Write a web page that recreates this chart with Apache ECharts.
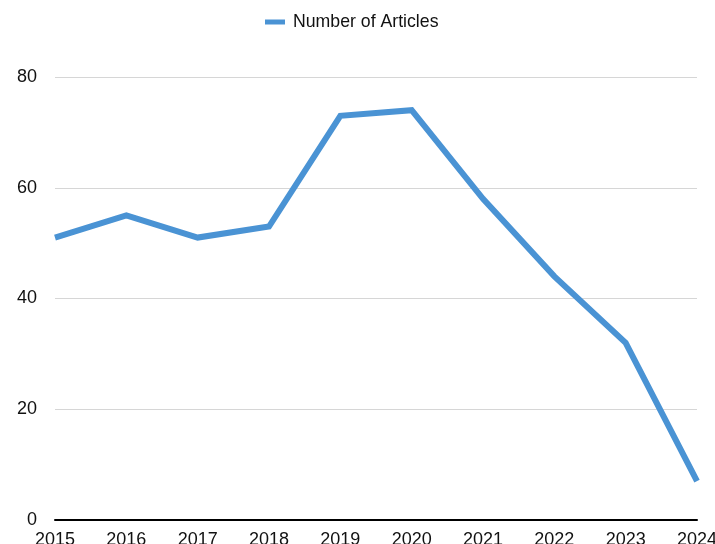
<!DOCTYPE html>
<html><head><meta charset="utf-8">
<script src="https://cdn.jsdelivr.net/npm/echarts@6/dist/echarts.min.js"></script>
<style>html,body{margin:0;padding:0;background:#fff}#c{width:715px;height:544px}</style>
</head><body><div id="c"></div>
<script>
const years = ['2015','2016','2017','2018','2019','2020','2021','2022','2023','2024'];
const articles = [51, 55, 51, 53, 73, 74, 58, 44, 32, 7];
const seriesName = 'Number of Articles';

const chart = echarts.init(document.getElementById('c'), null, {renderer:'canvas'});
const font = '"Liberation Sans", Arial, Helvetica, sans-serif';
chart.setOption({
  animation:false,
  backgroundColor:'#fff',
  legend:{
    top:8, left:260,
    itemWidth:20, itemHeight:5, itemGap:8,
    icon:'rect',
    textStyle:{fontFamily:font, fontSize:17.7, color:'#111', padding:[0,0,0,3]},
    data:[seriesName]
  },
  grid:{left:55, right:18, top:77, bottom:24, containLabel:false, outerBoundsMode:'none'},
  xAxis:{
    type:'category', data:years, boundaryGap:false,
    axisLine:{lineStyle:{color:'#000', width:2}},
    axisTick:{show:false},
    axisLabel:{fontFamily:font, fontSize:18, color:'#111', margin:11, interval:0},
    splitLine:{show:false}
  },
  yAxis:{
    type:'value', min:0, max:80, interval:20,
    axisLine:{show:false}, axisTick:{show:false},
    axisLabel:{fontFamily:font, fontSize:18, color:'#111', margin:18},
    splitLine:{lineStyle:{color:'#d6d6d6', width:1}}
  },
  series:[{
    name:seriesName, type:'line', data:articles,
    symbol:'none', smooth:false,
    lineStyle:{color:'#4a93d4', width:6, join:'miter'},
    itemStyle:{color:'#4a93d4'}
  }]
});
</script></body></html>
